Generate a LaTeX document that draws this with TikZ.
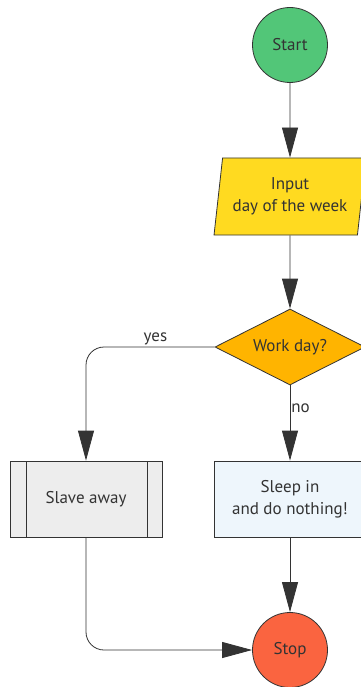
\documentclass[tikz,border=0pt]{standalone}
\usepackage{fontspec}
\setmainfont{PT Sans}
\usetikzlibrary{arrows.meta,shapes.geometric}
\definecolor{startgreen}{RGB}{82, 198, 120}
\definecolor{inputyellow}{RGB}{255, 218, 32}
\definecolor{decideorange}{RGB}{255, 180, 0}
\definecolor{stopred}{RGB}{250, 100, 64}
\definecolor{slavegray}{RGB}{237, 237, 237}
\definecolor{sleepblue}{RGB}{238, 246, 252}
\definecolor{linegray}{RGB}{51, 51, 51}

\tikzset{
  every node/.style={font=\fontsize{17}{22}\selectfont, text=linegray, align=center},
  terminal/.style={circle, draw=linegray, line width=0.8pt, minimum size=75pt, inner sep=0pt},
  inputbox/.style={trapezium, trapezium left angle=79, trapezium right angle=101,
                   trapezium stretches=true, draw=linegray, line width=0.8pt,
                   fill=inputyellow, minimum width=152pt, minimum height=77pt, inner sep=0pt},
  decision/.style={diamond, shape aspect=2, draw=linegray, line width=0.8pt, fill=decideorange,
                   minimum width=150pt, minimum height=76pt, inner sep=0pt},
  process/.style={rectangle, draw=linegray, line width=0.8pt,
                  minimum width=152pt, minimum height=76pt, inner sep=0pt},
  subprocess/.style={process, fill=slavegray,
                     path picture={
                       \draw[linegray, line width=0.8pt]
                         ([xshift=16pt]path picture bounding box.north west) --
                         ([xshift=16pt]path picture bounding box.south west);
                       \draw[linegray, line width=0.8pt]
                         ([xshift=-15pt]path picture bounding box.north east) --
                         ([xshift=-15pt]path picture bounding box.south east);}},
  flow/.style={draw=linegray, line width=0.8pt, -{Triangle[length=30pt, width=16pt]}},
  flowlabel/.style={font=\fontsize{17}{20}\selectfont}
}

\begin{document}
\begin{tikzpicture}[x=1pt, y=-1pt]
            \useasboundingbox (0, 0) rectangle (360, 687);
            \node[terminal, fill=startgreen] (start)  at (290,  45) {Start};
            \node[inputbox]                  (input)  at (290, 196.5) {Input\\day of the week};
            \node[decision]                  (decide) at (290, 347) {Work day?};
            \node[subprocess]                (slave)  at ( 86, 499) {Slave away};
            \node[process, fill=sleepblue]   (sleep)  at (290, 499) {Sleep in\\and do nothing!};
            \node[terminal, fill=stopred]    (stop)   at (290, 650) {Stop};

            \draw[flow] (start) -- (input);
            \draw[flow] (input) -- (decide);
            \draw[flow, rounded corners=18pt] (decide.west) -| node[flowlabel, above, pos=0.23, inner sep=2pt] (yes) {yes} (slave.north);
            \draw[flow] (decide) -- node[flowlabel, right, pos=0.3, inner sep=1pt] (no) {no} (sleep);
            \draw[flow] (sleep) -- (stop);
            \draw[flow, rounded corners=18pt] (slave.south) |- (stop.west);
\end{tikzpicture}
\end{document}
